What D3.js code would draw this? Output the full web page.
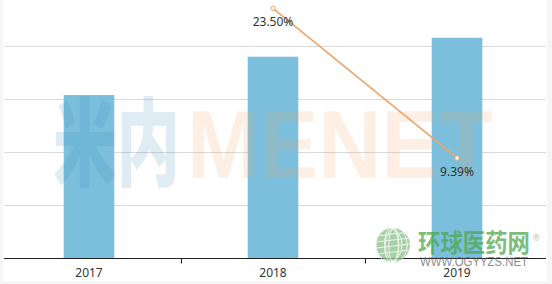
<html>
<head>
<meta charset="utf-8">
<style>
  body { margin: 0; background: #fff; }
  svg { display: block; }
  .lbl { font-family: "Noto Sans", "Noto Sans CJK SC", sans-serif; font-size: 12px; fill: #333; }
</style>
</head>
<body>
<svg width="552" height="284"></svg>
<script src="https://d3js.org/d3.v7.min.js"></script>
<script>
// chart values
const years = ["2017", "2018", "2019"];
const sales = [30.72, 37.93, 41.50];       // bar values (no y axis shown)
const growth = [null, 23.50, 9.39];        // growth rate, %
const gridTicks = [10, 20, 30, 40];

var svg = d3.select("svg");
var W = 552, H = 284;

// light frame round the plot
svg.append("rect").attr("width", W).attr("height", H).attr("fill", "#f6f6f6");
svg.append("rect").attr("x", 3).attr("y", 0).attr("width", 544).attr("height", 281).attr("fill", "#fff");

var x = d3.scaleBand().domain(years).range([-3, 549]).padding(0);
var barW = x.bandwidth() * 0.275;
var y = d3.scaleLinear().domain([0, 40]).range([258.3, 45.7]);
var y2 = d3.scaleLinear().domain([0, 20]).range([257.6, 45.4]);

// gridlines
svg.append("g").selectAll("line")
  .data(gridTicks)
  .enter().append("line")
  .attr("x1", 4).attr("x2", 546)
  .attr("y1", d => Math.round(y(d)) + 0.5)
  .attr("y2", d => Math.round(y(d)) + 0.5)
  .attr("stroke", "#d9d9d9");

// bars
svg.append("g").selectAll("rect")
  .data(years)
  .enter().append("rect")
  .attr("x", d => x(d) + x.bandwidth() / 2 - barW / 2)
  .attr("y", (d, i) => y(sales[i]))
  .attr("width", barW)
  .attr("height", (d, i) => y(0) - y(sales[i]))
  .attr("fill", "#7bbfdc");

// x axis
var ax = svg.append("g").attr("transform", "translate(0," + (Math.round(y(0)) + 0.5) + ")");
ax.append("line").attr("x1", 4).attr("x2", 546).attr("stroke", "#222");
ax.selectAll(".tk")
  .data(years.slice(1))
  .enter().append("line")
  .attr("class", "tk")
  .attr("x1", d => Math.round(x(d)) + 0.5).attr("x2", d => Math.round(x(d)) + 0.5)
  .attr("y1", 0).attr("y2", 5)
  .attr("stroke", "#222");
ax.selectAll(".yr")
  .data(years)
  .enter().append("text")
  .attr("class", "lbl yr")
  .attr("x", d => x(d) + x.bandwidth() / 2)
  .attr("y", 18)
  .attr("text-anchor", "middle")
  .text(d => d);

// watermark
var wm = svg.append("g").attr("font-family", "Liberation Sans, Arial, sans-serif").attr("font-weight", "bold");
wm.append("text").attr("x", 53).attr("y", 178).attr("font-size", 96)
  .attr("textLength", 127).attr("lengthAdjust", "spacingAndGlyphs")
  .attr("font-family", "Noto Sans CJK SC").attr("font-weight", 900)
  .attr("fill", "#3c8fc0").attr("opacity", 0.16).text("米内");
wm.append("text").attr("x", 187).attr("y", 178).attr("font-size", 96)
  .attr("textLength", 306).attr("lengthAdjust", "spacingAndGlyphs")
  .attr("fill", "#f7a35c").attr("opacity", 0.16).text("MENET");

// growth line
var pts = years.map((d, i) => ({ year: d, v: growth[i] })).filter(d => d.v != null);
var line = d3.line()
  .x(d => x(d.year) + x.bandwidth() / 2)
  .y(d => y2(d.v));
svg.append("path")
  .datum(pts)
  .attr("d", line)
  .attr("fill", "none")
  .attr("stroke", "#efa467")
  .attr("stroke-width", 1.6);
svg.append("g").selectAll("circle")
  .data(pts)
  .enter().append("circle")
  .attr("cx", d => x(d.year) + x.bandwidth() / 2)
  .attr("cy", d => y2(d.v))
  .attr("r", 2.2)
  .attr("fill", "#fff")
  .attr("stroke", "#efa467")
  .attr("stroke-width", 1);
svg.append("g").selectAll("text")
  .data(pts)
  .enter().append("text")
  .attr("class", "lbl")
  .attr("x", d => x(d.year) + x.bandwidth() / 2)
  .attr("y", d => y2(d.v) + 18)
  .attr("text-anchor", "middle")
  .text(d => d.v.toFixed(2) + "%");

// logo watermark, bottom right
var logo = svg.append("g").attr("opacity", 0.75);
var gx = 393, gy = 245, gr = 17;
logo.append("circle").attr("cx", gx).attr("cy", gy).attr("r", gr).attr("fill", "#8cc08c");
[-10, -4, 2, 8].forEach(function (o) {
  logo.append("ellipse").attr("cx", gx + o * 0.4).attr("cy", gy).attr("rx", Math.abs(o) + 3).attr("ry", gr)
    .attr("fill", "none").attr("stroke", "#e8f3e8").attr("stroke-width", 1);
});
[-9, -3, 3, 9].forEach(function (o) {
  logo.append("line").attr("x1", gx - gr).attr("x2", gx + gr).attr("y1", gy + o).attr("y2", gy + o - 4)
    .attr("stroke", "#e8f3e8").attr("stroke-width", 1);
});
logo.append("text").attr("x", 418).attr("y", 252).attr("font-size", 25)
  .attr("textLength", 112).attr("lengthAdjust", "spacingAndGlyphs")
  .attr("font-family", "Noto Sans CJK SC").attr("font-weight", 700)
  .attr("fill", "#4fa84f").text("环球医药网");
logo.append("text").attr("x", 533).attr("y", 241).attr("font-size", 9)
  .attr("font-family", "Liberation Sans").attr("fill", "#999").text("®");
logo.append("text").attr("x", 420).attr("y", 266).attr("font-size", 12)
  .attr("textLength", 108).attr("lengthAdjust", "spacingAndGlyphs")
  .attr("font-family", "Liberation Sans").attr("fill", "#666").text("WWW.OGYYZS.NET");
</script>
</body>
</html>
